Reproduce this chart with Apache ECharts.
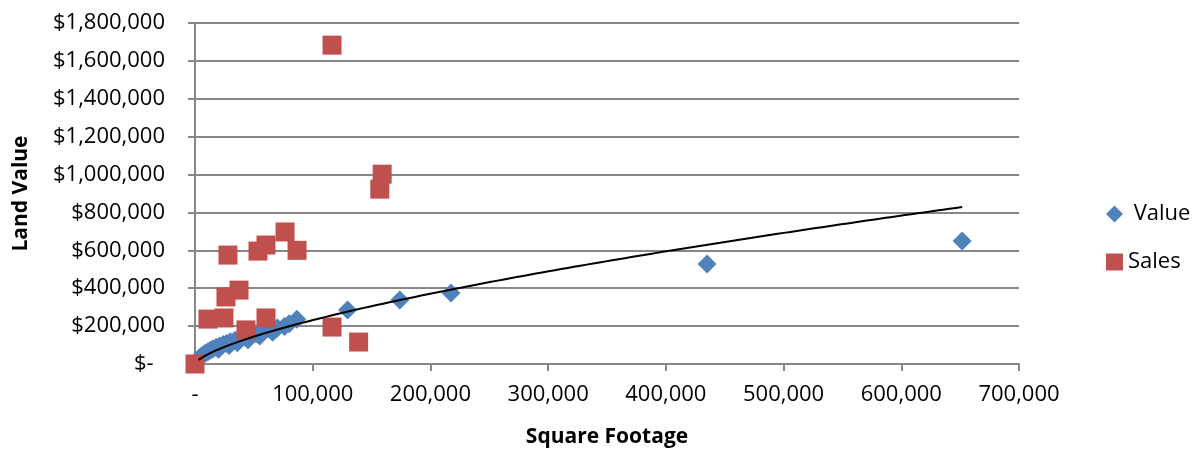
<!DOCTYPE html>
<html>
<head>
<meta charset="utf-8">
<title>Land Value vs Square Footage</title>
<script src="https://cdn.jsdelivr.net/npm/echarts@6/dist/echarts.min.js"></script>
<style>
  html, body { margin: 0; padding: 0; background: #ffffff; }
  #chart { width: 1201px; height: 450px; }
</style>
</head>
<body>
<div id="chart"></div>
<script>
// Assessed land value by lot size: [square footage, value]
const valuePoints = [
  [3000, 28000], [5000, 40000], [7000, 49000], [9000, 58000], [11000, 65000],
  [13000, 73000], [15000, 79000], [18000, 88000], [20000, 78000], [21000, 95000],
  [24000, 103000], [27000, 110000], [29000, 98000], [30000, 117000], [34000, 126000],
  [36000, 112000], [38000, 134000], [42000, 143000], [45000, 128000], [47000, 151000],
  [52000, 160000], [55000, 148000], [58000, 170000], [64000, 179000], [66000, 168000],
  [70000, 190000], [76000, 198000], [80000, 212000],
  [86500, 236000], [129600, 285000], [174000, 338000], [217500, 375000],
  [435000, 528000], [651700, 649000]
];

// Recorded sale prices by lot size: [square footage, price]
const salesPoints = [
  [0, 0], [11000, 237000], [24600, 243000], [26300, 354000], [28000, 575000],
  [37400, 390000], [43300, 180000], [53500, 596000], [60300, 243000], [60300, 628000],
  [76500, 697000], [86700, 600000], [116400, 1683000], [116400, 195000],
  [139000, 116000], [157000, 923000], [159000, 1002000]
];

// Power trend line y = a * x^b
const trendCoef = 92.2;
const trendExp = 0.68;

const xTicks = { min: 0, max: 700000, step: 100000 };
const yTicks = { min: 0, max: 1800000, step: 200000 };

const xs = valuePoints.map(p => p[0]);
const xLo = Math.min(...xs), xHi = Math.max(...xs);
const trendPoints = [];
for (let i = 0; i <= 120; i++) {
  const x = xLo + (xHi - xLo) * i / 120;
  trendPoints.push([x, trendCoef * Math.pow(x, trendExp)]);
}

const FONT = '"Open Sans", "Liberation Sans", sans-serif';
const GRID_COLOR = '#878787';

function thousands(v) {
  return Math.round(v).toString().replace(/\B(?=(\d{3})+(?!\d))/g, ',');
}

const chart = echarts.init(document.getElementById('chart'), null, { renderer: 'canvas' });

chart.setOption({
  backgroundColor: '#ffffff',
  animation: false,
  textStyle: { fontFamily: FONT },
  grid: { left: 195, right: 182, top: 23, bottom: 86, containLabel: false, outerBoundsMode: 'none' },
  legend: {
    orient: 'vertical',
    left: 1106,
    top: 202,
    padding: 0,
    itemWidth: 17,
    itemHeight: 17,
    itemGap: 24,
    data: [
      { name: 'Value', icon: 'diamond' },
      { name: 'Sales', icon: 'rect' }
    ],
    formatter: name => (name === 'Value' ? ' ' + name : name),
    textStyle: { fontFamily: FONT, fontSize: 22, color: '#000000', lineHeight: 24 }
  },
  xAxis: {
    type: 'value',
    min: xTicks.min,
    max: xTicks.max,
    interval: xTicks.step,
    name: 'Square Footage',
    nameLocation: 'middle',
    nameGap: 63,
    nameTextStyle: { fontFamily: FONT, fontSize: 21, fontWeight: 'bold', color: '#000000' },
    axisLine: { show: true, onZero: false, lineStyle: { color: GRID_COLOR, width: 2 } },
    axisTick: { show: true, inside: false, length: 7, lineStyle: { color: GRID_COLOR, width: 2 } },
    axisLabel: {
      margin: 20,
      fontFamily: FONT,
      fontSize: 22,
      color: '#000000',
      formatter: v => (v === 0 ? '-' : thousands(v))
    },
    splitLine: { show: false }
  },
  yAxis: {
    type: 'value',
    min: yTicks.min,
    max: yTicks.max,
    interval: yTicks.step,
    name: 'Land Value',
    nameLocation: 'middle',
    nameGap: 163,
    nameRotate: 90,
    nameTextStyle: { fontFamily: FONT, fontSize: 21, fontWeight: 'bold', color: '#000000' },
    axisLine: { show: true, lineStyle: { color: GRID_COLOR, width: 2 } },
    axisTick: { show: true, inside: false, length: 7, lineStyle: { color: GRID_COLOR, width: 2 } },
    axisLabel: {
      margin: 30,
      fontFamily: FONT,
      fontSize: 22,
      color: '#000000',
      formatter: v => (v === 0 ? '$-  ' : '$' + thousands(v))
    },
    splitLine: { show: true, lineStyle: { color: GRID_COLOR, width: 2 } }
  },
  series: [
    {
      name: 'Value',
      type: 'scatter',
      symbol: 'diamond',
      symbolSize: 19,
      itemStyle: { color: '#4F81BD', opacity: 1 },
      data: valuePoints,
      z: 2
    },
    {
      name: 'Sales',
      type: 'scatter',
      symbol: 'rect',
      symbolSize: 19,
      itemStyle: { color: '#C0504D', opacity: 1 },
      data: salesPoints,
      z: 3
    },
    {
      name: 'Trend',
      type: 'line',
      showSymbol: false,
      silent: true,
      smooth: false,
      lineStyle: { color: '#000000', width: 2 },
      data: trendPoints,
      z: 4
    }
  ]
});
</script>
</body>
</html>
